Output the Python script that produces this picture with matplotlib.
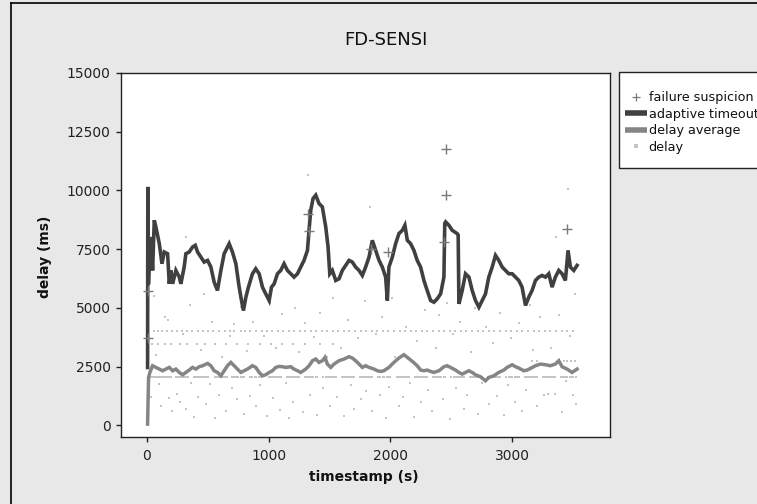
import matplotlib
matplotlib.use('Agg')
import matplotlib.pyplot as plt
from matplotlib.lines import Line2D
from matplotlib.patches import Rectangle
import numpy as np

# ---------------- data ----------------
timeout_x = [8, 10, 15, 22, 35, 49, 63, 76, 104, 126, 145, 172, 186, 199, 213, 240, 268, 281, 308, 322,
             349, 377, 399, 418, 445, 472, 500, 527, 554, 581, 609, 636, 677, 704, 732, 759, 778, 794,
             814, 835, 868, 895, 923, 950, 977, 1005, 1024, 1046, 1073, 1100, 1127, 1155, 1182, 1209,
             1237, 1264, 1291, 1319, 1332, 1346, 1365, 1387, 1414, 1441, 1469, 1488, 1502, 1523, 1551,
             1578, 1605, 1633, 1660, 1687, 1714, 1742, 1769, 1796, 1824, 1851, 1878, 1906, 1933, 1960,
             1974, 1987, 2015, 2042, 2069, 2097, 2118, 2138, 2165, 2192, 2219, 2247, 2274, 2301, 2329,
             2356, 2383, 2411, 2438, 2445, 2452, 2479, 2506, 2547, 2555, 2561, 2588, 2615, 2643, 2670,
             2697, 2725, 2752, 2779, 2806, 2834, 2861, 2888, 2916, 2943, 2970, 2998, 3025, 3052, 3079,
             3107, 3134, 3161, 3189, 3216, 3243, 3271, 3298, 3325, 3352, 3380, 3407, 3434, 3456, 3475,
             3503, 3530]
timeout_y = [2460, 10150, 6000, 7000, 8017, 6593, 8729, 8444, 7732, 6878, 7376, 7305, 6024, 6593, 6024,
             6593, 6308, 6024, 6736, 7305, 7376, 7590, 7661, 7376, 7163, 6949, 7020, 6736, 6095, 5739,
             6593, 7305, 7732, 7376, 6878, 5881, 5312, 4884, 5454, 5881, 6451, 6664, 6451, 5881, 5596,
             5312, 5881, 6024, 6451, 6593, 6878, 6593, 6451, 6308, 6451, 6736, 7020, 7448, 8302, 9156,
             9655, 9797, 9441, 9299, 8444, 7590, 6451, 6593, 6166, 6237, 6593, 6807, 7020, 6949, 6736,
             6593, 6380, 6736, 7163, 7875, 7448, 7020, 6736, 6308, 5312, 6736, 7163, 7732, 8160, 8302,
             8515, 7875, 7732, 7448, 7020, 6736, 6166, 5739, 5312, 5240, 5383, 5596, 6308, 8600, 8658,
             8515, 8302, 8160, 8100, 5169, 5739, 6451, 6308, 5739, 5312, 5027, 5312, 5596, 6308, 6736,
             7234, 7020, 6736, 6593, 6451, 6451, 6308, 6166, 5881, 5100, 5454, 5739, 6166, 6308, 6380,
             6308, 6451, 5881, 6308, 6593, 6451, 6166, 7448, 6736, 6593, 6807]

average_x = [8, 16, 27, 49, 76, 104, 131, 158, 186, 213, 240, 268, 295, 322, 349, 377, 404, 431, 459,
             500, 527, 554, 581, 609, 636, 663, 691, 718, 745, 773, 800, 827, 868, 895, 923, 950, 977,
             1005, 1032, 1059, 1087, 1114, 1141, 1182, 1209, 1237, 1264, 1305, 1332, 1360, 1387, 1414,
             1441, 1463, 1482, 1510, 1537, 1578, 1619, 1660, 1687, 1714, 1742, 1769, 1796, 1824, 1865,
             1892, 1919, 1946, 1987, 2028, 2069, 2110, 2138, 2179, 2219, 2247, 2274, 2301, 2329, 2356,
             2397, 2438, 2465, 2492, 2533, 2561, 2588, 2615, 2643, 2670, 2697, 2738, 2779, 2806, 2847,
             2888, 2929, 2956, 2998, 3025, 3052, 3093, 3120, 3148, 3189, 3230, 3271, 3311, 3352, 3380,
             3407, 3448, 3489, 3530]
average_y = [50, 2036, 2250, 2535, 2464, 2392, 2321, 2392, 2464, 2321, 2392, 2250, 2150, 2250, 2350,
             2464, 2392, 2492, 2535, 2634, 2535, 2321, 2250, 2108, 2321, 2535, 2677, 2535, 2392, 2250,
             2321, 2392, 2535, 2464, 2250, 2108, 2150, 2250, 2321, 2464, 2506, 2492, 2464, 2492, 2392,
             2321, 2250, 2392, 2535, 2748, 2820, 2677, 2748, 2891, 2606, 2464, 2606, 2748, 2820, 2919,
             2862, 2748, 2606, 2464, 2535, 2464, 2392, 2321, 2293, 2321, 2464, 2677, 2862, 3005, 2891,
             2720, 2535, 2350, 2321, 2350, 2293, 2250, 2321, 2492, 2535, 2464, 2350, 2250, 2179, 2250,
             2321, 2250, 2150, 2065, 1894, 2036, 2108, 2250, 2350, 2464, 2577, 2492, 2435, 2321, 2350,
             2421, 2535, 2606, 2577, 2535, 2606, 2748, 2492, 2392, 2250, 2392]

suspicion_x = [8, 8, 1327, 1332, 1837, 1982, 2438, 2452, 2452, 3448]
suspicion_y = [3702, 5710, 8985, 8259, 7519, 7376, 7803, 9811, 11762, 8359]

# delay samples: dense horizontal bands (x positions at one delay level) ...
band_2040_x = [20, 38, 52, 70, 85, 100, 118, 135, 150, 168, 185, 200, 240, 255, 272, 290, 305, 322, 340,
               390, 405, 420, 438, 455, 470, 488, 505, 560, 575, 592, 610, 625, 642, 660, 700, 718, 735,
               752, 770, 785, 800, 850, 868, 885, 900, 918, 935, 950, 1000, 1018, 1035, 1050, 1068, 1085,
               1100, 1150, 1168, 1185, 1200, 1218, 1235, 1250, 1300, 1318, 1335, 1350, 1368, 1385, 1400,
               1450, 1468, 1485, 1500, 1518, 1535, 1550, 1600, 1618, 1635, 1650, 1668, 1685, 1700, 1750,
               1768, 1785, 1800, 1818, 1835, 1850, 1900, 1918, 1935, 1950, 1968, 1985, 2000, 2050, 2068,
               2085, 2100, 2118, 2135, 2150, 2200, 2218, 2235, 2250, 2268, 2285, 2300, 2350, 2368, 2385,
               2400, 2418, 2435, 2450, 2500, 2518, 2535, 2550, 2568, 2585, 2600, 2650, 2668, 2685, 2700,
               2718, 2735, 2750, 2800, 2818, 2835, 2850, 2868, 2885, 2900, 2950, 2968, 2985, 3000, 3018,
               3035, 3050, 3100, 3118, 3135, 3150, 3168, 3185, 3200, 3250, 3268, 3285, 3300, 3318, 3335,
               3350, 3400, 3418, 3435, 3450, 3468, 3485, 3500, 3520]
band_4030_x = [60, 95, 130, 165, 210, 250, 290, 330, 370, 420, 460, 500, 545, 590, 640, 680, 720, 770,
               810, 850, 900, 945, 990, 1030, 1080, 1120, 1170, 1210, 1260, 1300, 1350, 1390, 1440, 1480,
               1530, 1570, 1620, 1660, 1710, 1760, 1800, 1850, 1890, 1940, 1980, 2030, 2080, 2120, 2170,
               2210, 2260, 2300, 2350, 2400, 2440, 2490, 2530, 2580, 2620, 2670, 2720, 2760, 2810, 2850,
               2900, 2950, 2990, 3040, 3080, 3130, 3180, 3220, 3270, 3310, 3360, 3410, 3450, 3500]
band_3460_x = [45, 90, 150, 200, 270, 330, 410, 480, 560, 650, 740, 830, 930, 1020, 1110, 1200, 1300,
               1420, 1530]
band_2750_x = [3160, 3200, 3380, 3420, 3450, 3480, 3510]
band_levels = [2040, 4030, 3460, 2750]

# ... and scattered delay samples
scatter_x = [35, 60, 80, 105, 120, 150, 175, 180, 210, 250, 270, 300, 320, 355, 360, 390, 420, 450, 470,
             490, 520, 540, 560, 590, 620, 650, 680, 700, 720, 740, 770, 800, 820, 850, 870, 900, 930,
             960, 990, 1010, 1040, 1060, 1090, 1110, 1140, 1170, 1200, 1220, 1250, 1280, 1300, 1320,
             1340, 1370, 1400, 1420, 1450, 1480, 1500, 1530, 1560, 1590, 1620, 1650, 1680, 1700, 1730,
             1760, 1790, 1800, 1830, 1850, 1880, 1910, 1930, 1960, 1990, 2010, 2040, 2070, 2100, 2130,
             2160, 2190, 2220, 2250, 2280, 2310, 2340, 2370, 2400, 2430, 2460, 2490, 2510, 2540, 2570,
             2600, 2630, 2660, 2690, 2720, 2750, 2780, 2810, 2840, 2870, 2900, 2930, 2960, 2990, 3020,
             3050, 3080, 3110, 3140, 3170, 3200, 3230, 3260, 3290, 3320, 3350, 3360, 3380, 3410, 3440,
             3455, 3470, 3500, 3515, 3520, 90, 322]
scatter_y = [1200, 5500, 3000, 1750, 800, 4600, 4500, 1150, 600, 1350, 1000, 3900, 700, 5100, 1800, 350,
             1200, 3200, 5600, 900, 1750, 4400, 300, 1300, 2900, 600, 3800, 1600, 4300, 1100, 5050, 500,
             3150, 1250, 4400, 800, 1700, 3800, 400, 5200, 1150, 3300, 650, 4750, 1800, 300, 1000, 5000,
             3100, 550, 4350, 10650, 1300, 3750, 450, 4800, 1600, 2900, 800, 5400, 1200, 3300, 400, 4500,
             1700, 700, 3700, 1100, 5300, 1450, 9300, 600, 3900, 1300, 4600, 300, 1650, 5400, 2900, 800,
             1200, 4200, 1800, 350, 3600, 1000, 4900, 1500, 600, 3300, 4700, 1100, 5200, 250, 3900, 1600,
             4400, 700, 1300, 3100, 5000, 500, 1800, 4200, 900, 3500, 1250, 4800, 450, 1700, 3700, 1000,
             4350, 600, 1500, 5100, 3200, 800, 4600, 1300, 1350, 3300, 1340, 8000, 4700, 550, 1900, 10050,
             3800, 1300, 5600, 900, 8100, 8000]

x_ticks = [0, 1000, 2000, 3000]
y_ticks = [0, 2500, 5000, 7500, 10000, 12500, 15000]

# ---------------- figure ----------------
W, H = 757, 504
BG = '#e8e8e8'
fig = plt.figure(figsize=(W / 100, H / 100), dpi=100, facecolor=BG)
ax = fig.add_axes([121 / W, 1 - 437 / H, (610 - 121) / W, (437 - 73) / H])
ax.set_facecolor('white')

C_TIMEOUT = '#404040'
C_AVG = '#858585'
C_DELAY = '#c4c4c4'
C_SUSP = '#7a7a7a'

delay_x = list(scatter_x)
delay_y = list(scatter_y)
for bx, lvl in zip([band_2040_x, band_4030_x, band_3460_x, band_2750_x], band_levels):
    delay_x += bx
    delay_y += [lvl] * len(bx)

ax.plot(delay_x, delay_y, linestyle='none', marker='s', markersize=1.6, markeredgewidth=0,
        color=C_DELAY, zorder=1)
ax.plot(average_x, average_y, color=C_AVG, lw=2.5, solid_joinstyle='miter', zorder=2)
ax.plot(timeout_x, timeout_y, color=C_TIMEOUT, lw=2.6, solid_joinstyle='miter', zorder=3)
ax.plot(suspicion_x, suspicion_y, linestyle='none', marker='+', markersize=7, markeredgewidth=1.0,
        color=C_SUSP, zorder=4)

ax.set_xlim(-210, 3800)
ax.set_ylim(-500, 15000)
ax.set_xticks(x_ticks)
ax.set_yticks(y_ticks)
ax.tick_params(direction='out', length=3.4, width=1, colors='#222222', labelsize=10,
               top=False, right=False)
ax.tick_params(axis='x', pad=5.5)
ax.tick_params(axis='y', pad=4.0)
for s in ax.spines.values():
    s.set_linewidth(1.0)
    s.set_color('#222222')

# labels and title
fig.text(386 / W, 1 - 40 / H, 'FD-SENSI', ha='center', va='center', fontsize=13, color='#111111')
fig.text(45 / W, 1 - 257 / H, 'delay (ms)', rotation=90, ha='center', va='center',
         fontsize=10, fontweight='bold', color='#111111')
fig.text(364 / W, 1 - 477.5 / H, 'timestamp (s)', ha='center', va='center',
         fontsize=10, fontweight='bold', color='#111111')

# outer frame
fig.add_artist(Line2D([11 / W, 11 / W], [0, 1 - 3 / H], transform=fig.transFigure, color='black', lw=1.2))
fig.add_artist(Line2D([11 / W, 1], [1 - 3 / H, 1 - 3 / H], transform=fig.transFigure, color='black', lw=1.2))

# legend box
fig.add_artist(Rectangle((619 / W, 1 - 168 / H), (800 - 619) / W, (168 - 72) / H,
                         transform=fig.transFigure, facecolor='white', edgecolor='#222222',
                         lw=1.0, clip_on=False, zorder=5))
handles = [
    Line2D([], [], linestyle='none', marker='+', markersize=6, markeredgewidth=0.9, color=C_SUSP),
    Line2D([], [], color=C_TIMEOUT, lw=4.0, solid_capstyle='butt'),
    Line2D([], [], color=C_AVG, lw=4.0, solid_capstyle='butt'),
    Line2D([], [], linestyle='none', marker='s', markersize=3.5, markeredgewidth=0, color=C_DELAY),
]
labels = ['failure suspicion', 'adaptive timeout', 'delay average', 'delay']
leg = fig.legend(handles, labels, loc='upper left', bbox_to_anchor=(625 / W, 1 - 91 / H),
                 frameon=False, borderpad=0, borderaxespad=0, handlelength=1.75,
                 handletextpad=0.1, labelspacing=0.28, fontsize=9.2)
leg.set_zorder(6)
for t in leg.get_texts():
    t.set_color('#111111')

fig.savefig('out.png', dpi=100, facecolor=BG)
